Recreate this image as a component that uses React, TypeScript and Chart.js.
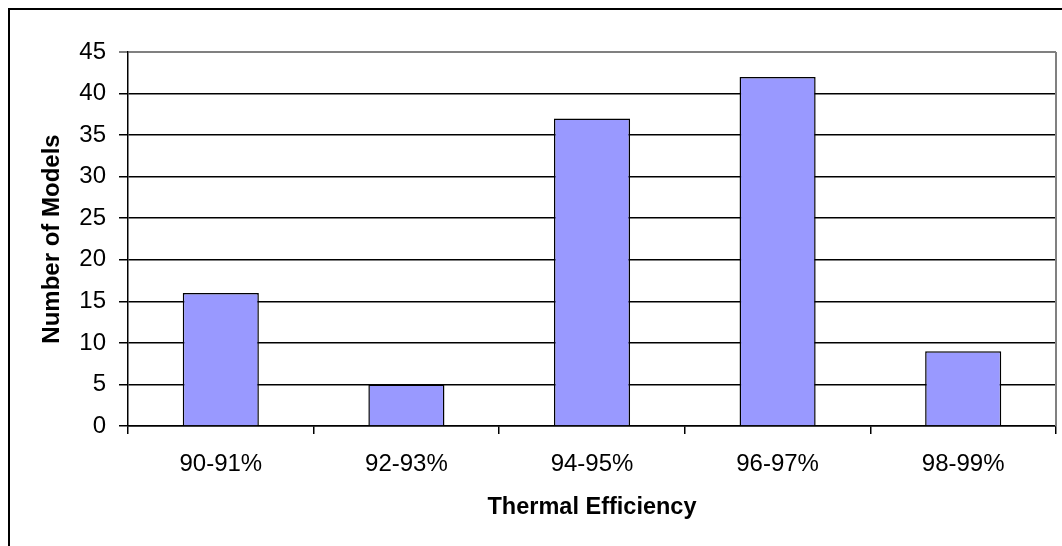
import React, { useEffect, useRef } from "react";
import { Chart, registerables } from "chart.js";

Chart.register(...registerables);

const categories = ["90-91%", "92-93%", "94-95%", "96-97%", "98-99%"];
const modelCounts = [16, 5, 37, 42, 9];
const yMin = 0;
const yMax = 45;
const yStep = 5;
const xTitle = "Thermal Efficiency";
const yTitle = "Number of Models";

const FONT = "'Liberation Sans', Arial, sans-serif";

const plotBorder = {
  id: "plotBorder",
  beforeDatasetsDraw(chart: any) {
    const { ctx, chartArea } = chart;
    ctx.save();
    ctx.strokeStyle = "#808080";
    ctx.lineWidth = 2;
    ctx.beginPath();
    ctx.moveTo(chartArea.right, chartArea.top);
    ctx.lineTo(chartArea.right, chartArea.bottom);
    ctx.stroke();
    ctx.restore();
  },
};

export default function App() {
  const ref = useRef<HTMLCanvasElement | null>(null);

  useEffect(() => {
    if (!ref.current) return;
    const chart = new Chart(ref.current, {
      type: "bar",
      data: {
        labels: categories,
        datasets: [
          {
            data: modelCounts,
            backgroundColor: "#9999FF",
            borderColor: "#000000",
            borderWidth: 1.5,
            barPercentage: 0.41,
            categoryPercentage: 1,
          },
        ],
      },
      plugins: [plotBorder],
      options: {
        responsive: false,
        animation: false,
        layout: { padding: { top: 42, right: 6, left: 0, bottom: 0 } },
        plugins: {
          legend: { display: false },
          tooltip: { enabled: false },
        },
        scales: {
          x: {
            offset: true,
            grid: {
              display: true,
              offset: true,
              drawOnChartArea: false,
              drawTicks: true,
              tickLength: 8,
              color: "#000000",
              lineWidth: 1.5,
            },
            border: { display: true, color: "#000000", width: 1.5 },
            ticks: {
              color: "#000000",
              padding: 16,
              font: { family: FONT, size: 24 },
              maxRotation: 0,
            },
            title: {
              display: true,
              text: xTitle,
              color: "#000000",
              font: { family: FONT, size: 23.5, weight: "bold" },
              padding: { top: 0, bottom: 24 },
            },
            afterFit(scale: any) {
              scale.height = 120;
            },
          },
          y: {
            min: yMin,
            max: yMax,
            grid: {
              color: (ctx: any) => (ctx.tick && ctx.tick.value === yMax ? "#808080" : "#000000"),
              lineWidth: (ctx: any) => (ctx.tick && ctx.tick.value === yMax ? 2 : 1.5),
              drawTicks: true,
              tickLength: 9,
            },
            border: { display: true, color: "#000000", width: 1.5 },
            ticks: {
              stepSize: yStep,
              color: "#000000",
              padding: 13,
              font: { family: FONT, size: 24 },
            },
            title: {
              display: true,
              text: yTitle,
              color: "#000000",
              font: { family: FONT, size: 24, weight: "bold" },
              padding: { top: 28, bottom: 0 },
            },
            afterFit(scale: any) {
              scale.width = 118;
            },
          },
        },
      },
    });
    return () => chart.destroy();
  }, []);

  return (
    <div
      style={{
        position: "absolute",
        left: 8,
        top: 8,
        width: 1054,
        height: 538,
        boxSizing: "border-box",
        borderLeft: "2px solid #000",
        borderTop: "2px solid #000",
        background: "#fff",
      }}
    >
      <canvas ref={ref} width={1052} height={536} style={{ display: "block", width: 1052, height: 536 }} />
    </div>
  );
}
